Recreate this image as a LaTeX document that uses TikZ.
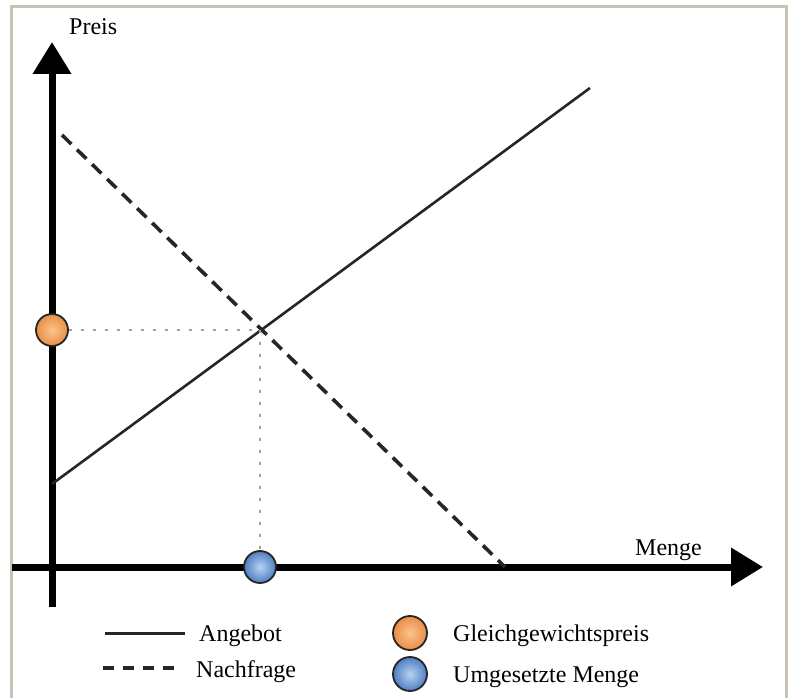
\documentclass[tikz,border=0pt]{standalone}
\usepackage{fontspec}
\setmainfont{Liberation Serif}
\usetikzlibrary{arrows.meta}
\definecolor{framec}{HTML}{C9C1B5}
\definecolor{guide}{HTML}{A89C9C}
\definecolor{orangeA}{HTML}{FBC48E}
\definecolor{orangeB}{HTML}{E98E45}
\definecolor{blueA}{HTML}{B7D2F2}
\definecolor{blueB}{HTML}{4F7FC2}
\begin{document}
\begin{tikzpicture}[x=1pt,y=-1pt,
  axis/.style={line width=7pt,-{Triangle[length=32pt,width=37pt]}},
  supply/.style={line width=2.6pt,draw=black!85},
  demand/.style={line width=3.6pt,draw=black!85,dash pattern=on 13pt off 8pt},
  guideline/.style={line width=1.6pt,draw=guide,dash pattern=on 3pt off 9pt},
  dotbase/.style={circle,minimum size=32pt,inner sep=0pt,draw=black!85,line width=1.8pt},
  pricedot/.style={dotbase,shade,shading=radial,inner color=orangeA,outer color=orangeB},
  qtydot/.style={dotbase,shade,shading=radial,inner color=blueA,outer color=blueB},
  lbl/.style={font=\fontsize{24}{27}\selectfont,inner sep=0pt},
]
\useasboundingbox (0,0) rectangle (788,698);
\fill[white] (0,0) rectangle (788,698);
% frame, open at the bottom
\draw[framec,line width=3pt] (11,700) -- (11,7) -- (786,7) -- (786,700);

% axes
\coordinate (ybot) at (52,607);
\coordinate (ytop) at (52,42);
\coordinate (xleft) at (12,567);
\coordinate (xright) at (763,567);
\draw[axis] (ybot) -- (ytop);
\draw[axis] (xleft) -- (xright);
\node[lbl,anchor=base west] (preis) at (69,35) {Preis};
\node[lbl,anchor=base west] (menge) at (635,555) {Menge};

% supply and demand
\coordinate (s0) at (52,484);
\coordinate (s1) at (590,88);
\coordinate (d0) at (62,135);
\coordinate (d1) at (505,567);
\coordinate (eq) at (260,330);
\draw[demand] (d0) -- (d1);
\draw[supply] (s0) -- (s1);

% equilibrium markers
\node[pricedot] (gp) at (52,330) {};
\node[qtydot] (um) at (260,567) {};
\draw[guideline] (gp) -- (eq);
\draw[guideline] (eq) -- (um);

% legend
\coordinate (la0) at (105,633);
\coordinate (la1) at (185,633);
\coordinate (ln0) at (103,668);
\coordinate (ln1) at (176,668);
\draw[line width=3pt,black!85] (la0) -- (la1);
\draw[line width=4pt,black!85,dash pattern=on 11pt off 9pt] (ln0) -- (ln1);
\node[lbl,anchor=base west] (angebot) at (199,641) {Angebot};
\node[lbl,anchor=base west] (nachfrage) at (196,677) {Nachfrage};
\node[pricedot,minimum size=34pt] (lgp) at (410,633) {};
\node[qtydot,minimum size=34pt] (lum) at (410,674) {};
\node[lbl,anchor=base west] (tgp) at (453,641) {Gleichgewichtspreis};
\node[lbl,anchor=base west] (tum) at (453,682) {Umgesetzte Menge};
\end{tikzpicture}
\end{document}
